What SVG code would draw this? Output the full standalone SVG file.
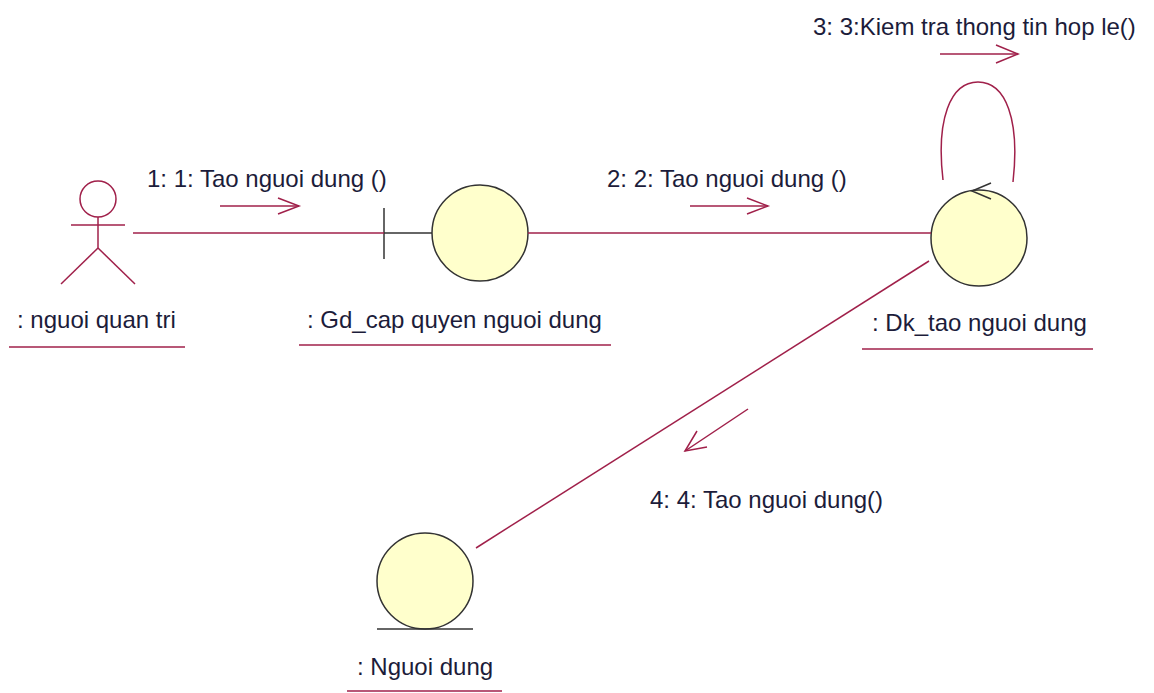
<svg xmlns="http://www.w3.org/2000/svg" width="1154" height="693" viewBox="0 0 1154 693">
<style>
.ln{stroke:#a0204a;stroke-width:1.5;fill:none}
.obj{fill:#ffffcc;stroke:#333;stroke-width:1.5}
.blk{stroke:#333;stroke-width:1.5;fill:none}
.t{font-family:"Liberation Sans",Arial,sans-serif;font-size:24px;fill:#1c1c3a}
</style>
<rect width="1154" height="693" fill="#fff"/>
<g id="actor">
<circle class="ln" cx="98" cy="199" r="18"/>
<line class="ln" x1="98" y1="217" x2="98" y2="248"/>
<line class="ln" x1="71" y1="225" x2="125" y2="225"/>
<line class="ln" x1="98" y1="248" x2="61" y2="284"/>
<line class="ln" x1="98" y1="248" x2="135" y2="284"/>
<text class="t" x="17" y="328">: nguoi quan tri</text>
<line class="ln" x1="9" y1="347" x2="185" y2="347"/>
</g>
<g id="gd">
<line class="blk" x1="384" y1="208" x2="384" y2="259"/>
<line class="blk" x1="384" y1="233" x2="432" y2="233"/>
<circle class="obj" cx="480" cy="233" r="48"/>
<text class="t" x="307" y="328">: Gd_cap quyen nguoi dung</text>
<line class="ln" x1="299" y1="345" x2="611" y2="345"/>
</g>
<g id="dk">
<circle class="obj" cx="979" cy="238" r="48"/>
<text class="t" x="872" y="331">: Dk_tao nguoi dung</text>
<line class="ln" x1="862" y1="349" x2="1093" y2="349"/>
</g>
<g id="nguoidung">
<circle class="obj" cx="425" cy="581" r="48"/>
<line class="blk" x1="377" y1="629" x2="473" y2="629"/>
<text class="t" x="357" y="675">: Nguoi dung</text>
<line class="ln" x1="347" y1="691" x2="502" y2="691"/>
</g>
<g id="connectors">
<line class="ln" x1="133" y1="233" x2="384" y2="233"/>
<line class="ln" x1="528" y1="233" x2="931" y2="233"/>
<line class="ln" x1="929" y1="261" x2="476" y2="548"/>
<path class="ln" d="M943,180 C936,120 950,82 978,82 C1006,82 1020,120 1013,182"/>
<path class="blk" d="M991,183 L972,191 L991,199"/>
</g>
<g id="msg1">
<text class="t" x="147" y="187">1: 1: Tao nguoi dung ()</text>
<line class="ln" x1="220" y1="206" x2="299" y2="206"/>
<path class="ln" d="M278,198 L299,206 L278,214"/>
</g>
<g id="msg2">
<text class="t" x="607" y="187">2: 2: Tao nguoi dung ()</text>
<line class="ln" x1="690" y1="206" x2="768" y2="206"/>
<path class="ln" d="M747,198 L768,206 L747,214"/>
</g>
<g id="msg3">
<text class="t" x="813" y="35">3: 3:Kiem tra thong tin hop le()</text>
<line class="ln" x1="940" y1="54" x2="1018" y2="54"/>
<path class="ln" d="M996,45 L1018,54 L996,63"/>
</g>
<g id="msg4">
<text class="t" x="650" y="508">4: 4: Tao nguoi dung()</text>
<line class="ln" x1="748" y1="409" x2="685" y2="451"/>
<path class="ln" d="M697,431 L685,451 L707,447"/>
</g>
</svg>
